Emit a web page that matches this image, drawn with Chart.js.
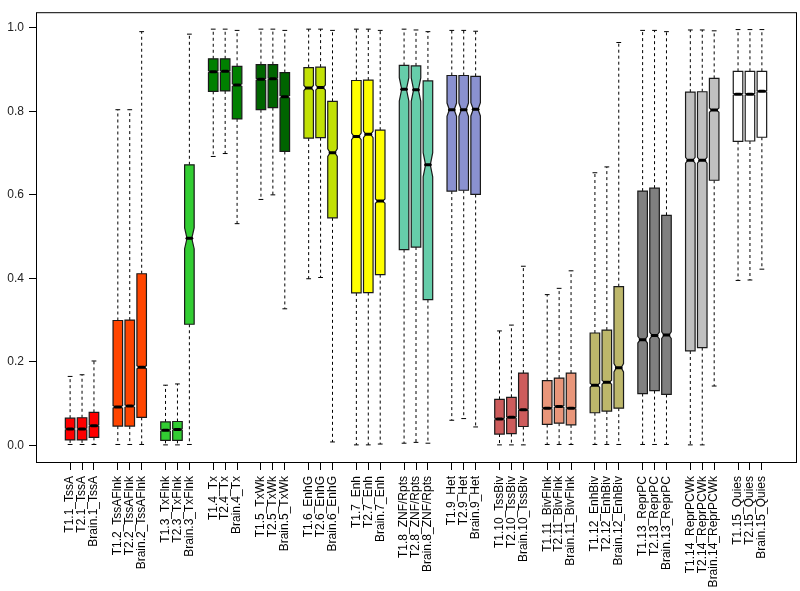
<!DOCTYPE html>
<html>
<head>
<meta charset="utf-8">
<script src="https://cdn.jsdelivr.net/npm/chart.js@4.4.1/dist/chart.umd.min.js"></script>
<style>
  html, body { margin: 0; padding: 0; background: #fff; }
  #wrap { width: 800px; height: 591px; }
</style>
</head>
<body>
<div id="wrap"><canvas id="boxChart" width="800" height="591"></canvas></div>
<script>
// chromatin states, three samples each
var states = ["TssA", "TssAFlnk", "TxFlnk", "Tx", "TxWk", "EnhG", "Enh", "ZNF/Rpts",
  "Het", "TssBiv", "BivFlnk", "EnhBiv", "ReprPC", "ReprPCWk", "Quies"];
var samples = ["T1", "T2", "Brain"];
var stateColors = ["#FF0000", "#FF4500", "#32CD32", "#008000", "#006400", "#C2E105",
  "#FFFF00", "#66CDAA", "#8A91D0", "#CD5C5C", "#E9967A", "#BDB76B", "#808080",
  "#C0C0C0", "#FFFFFF"];
var yTicks = [0, 0.2, 0.4, 0.6, 0.8, 1.0];

// box stats, ordered T1, T2, Brain per state
var whiskerLow = [
  0.002, 0.002, 0.002,  0.002, 0.002, 0.002,  0.001, 0.001, 0.002,
  0.692, 0.699, 0.531,  0.589, 0.600, 0.327,  0.399, 0.402, 0.008,
  0.001, 0.001, 0.003,  0.005, 0.007, 0.005,  0.060, 0.064, 0.044,
  0.001, 0.001, 0.001,  0.002, 0.002, 0.002,  0.002, 0.002, 0.002,
  0.002, 0.002, 0.002,  0.001, 0.001, 0.142,  0.395, 0.396, 0.422];
var q1 = [
  0.013, 0.013, 0.019,  0.046, 0.046, 0.067,  0.012, 0.012, 0.290,
  0.848, 0.849, 0.782,  0.804, 0.809, 0.704,  0.736, 0.737, 0.545,
  0.365, 0.366, 0.409,  0.469, 0.475, 0.349,  0.609, 0.611, 0.601,
  0.027, 0.028, 0.045,  0.050, 0.053, 0.049,  0.078, 0.082, 0.089,
  0.124, 0.131, 0.122,  0.226, 0.234, 0.635,  0.728, 0.729, 0.738];
var medians = [
  0.039, 0.039, 0.047,  0.092, 0.094, 0.187,  0.036, 0.038, 0.496,
  0.895, 0.896, 0.863,  0.877, 0.878, 0.835,  0.856, 0.857, 0.701,
  0.740, 0.745, 0.585,  0.853, 0.852, 0.672,  0.804, 0.804, 0.805,
  0.063, 0.067, 0.085,  0.089, 0.093, 0.089,  0.144, 0.151, 0.186,
  0.253, 0.263, 0.264,  0.683, 0.683, 0.803,  0.841, 0.841, 0.848];
var q3 = [
  0.065, 0.066, 0.079,  0.299, 0.300, 0.411,  0.056, 0.057, 0.672,
  0.926, 0.926, 0.908,  0.912, 0.912, 0.893,  0.905, 0.906, 0.824,
  0.874, 0.875, 0.755,  0.910, 0.909, 0.873,  0.886, 0.886, 0.884,
  0.110, 0.115, 0.173,  0.155, 0.161, 0.173,  0.269, 0.276, 0.380,
  0.609, 0.616, 0.551,  0.846, 0.847, 0.879,  0.896, 0.896, 0.896];
var whiskerHigh = [
  0.165, 0.169, 0.202,  0.804, 0.804, 0.991,  0.144, 0.147, 0.985,
  0.997, 0.997, 0.994,  0.997, 0.997, 0.994,  0.997, 0.997, 0.994,
  0.997, 0.997, 0.994,  0.997, 0.995, 0.991,  0.994, 0.994, 0.992,
  0.274, 0.288, 0.429,  0.361, 0.376, 0.418,  0.653, 0.667, 0.965,
  0.994, 0.994, 0.991,  0.995, 0.995, 0.993,  0.996, 0.996, 0.996];
// half height of each notch around the median
var notchHalf = [
  0.002, 0.002, 0.002,  0.003, 0.003, 0.004,  0.002, 0.002, 0.025,
  0.002, 0.002, 0.003,  0.002, 0.002, 0.003,  0.006, 0.006, 0.009,
  0.008, 0.008, 0.005,  0.028, 0.028, 0.029,  0.016, 0.016, 0.016,
  0.002, 0.002, 0.002,  0.002, 0.002, 0.002,  0.005, 0.005, 0.010,
  0.008, 0.008, 0.008,  0.007, 0.007, 0.005,  0.002, 0.002, 0.002];

var labels = [];
var positions = [];
var colors = [];
for (var g = 0; g < states.length; g++) {
  for (var s = 0; s < samples.length; s++) {
    labels.push(samples[s] + "." + (g + 1) + "_" + states[g]);
    positions.push(g * 4 + s + 1);
    colors.push(stateColors[g]);
  }
}

var points = positions.map(function (p, i) { return { x: p, y: medians[i] }; });

var boxPlugin = {
  id: "boxes",
  afterDatasetsDraw: function (chart) {
    var ctx = chart.ctx;
    var xs = chart.scales.x, ys = chart.scales.y;
    var area = chart.chartArea;
    ctx.save();
    for (var i = 0; i < positions.length; i++) {
      var x = xs.getPixelForValue(positions[i]);
      var hw = xs.getPixelForValue(positions[i] + 0.4) - x;
      var sw = hw * 0.5;
      var yLo = ys.getPixelForValue(whiskerLow[i]);
      var yQ1 = ys.getPixelForValue(q1[i]);
      var yMed = ys.getPixelForValue(medians[i]);
      var yQ3 = ys.getPixelForValue(q3[i]);
      var yHi = ys.getPixelForValue(whiskerHigh[i]);
      var yN1 = ys.getPixelForValue(medians[i] - notchHalf[i]);
      var yN2 = ys.getPixelForValue(medians[i] + notchHalf[i]);

      // whiskers
      ctx.strokeStyle = "#000";
      ctx.lineWidth = 1;
      ctx.setLineDash([3, 3]);
      ctx.beginPath();
      ctx.moveTo(x, yQ3); ctx.lineTo(x, yHi);
      ctx.moveTo(x, yQ1); ctx.lineTo(x, yLo);
      ctx.stroke();
      ctx.setLineDash([]);
      ctx.beginPath();
      ctx.moveTo(x - sw, yHi); ctx.lineTo(x + sw, yHi);
      ctx.moveTo(x - sw, yLo); ctx.lineTo(x + sw, yLo);
      ctx.stroke();

      // notched box
      ctx.beginPath();
      ctx.moveTo(x - hw, yQ1);
      ctx.lineTo(x + hw, yQ1);
      ctx.lineTo(x + hw, yN1);
      ctx.lineTo(x + hw * 0.5, yMed);
      ctx.lineTo(x + hw, yN2);
      ctx.lineTo(x + hw, yQ3);
      ctx.lineTo(x - hw, yQ3);
      ctx.lineTo(x - hw, yN2);
      ctx.lineTo(x - hw * 0.5, yMed);
      ctx.lineTo(x - hw, yN1);
      ctx.closePath();
      ctx.fillStyle = colors[i];
      ctx.fill();
      ctx.strokeStyle = "#1a1a1a";
      ctx.lineWidth = 1.2;
      ctx.stroke();

      // median
      ctx.strokeStyle = "#000";
      ctx.lineWidth = 3;
      ctx.lineCap = "round";
      ctx.beginPath();
      ctx.moveTo(x - hw * 0.5, yMed);
      ctx.lineTo(x + hw * 0.5, yMed);
      ctx.stroke();
      ctx.lineCap = "butt";
    }
    // frame
    ctx.strokeStyle = "#000";
    ctx.lineWidth = 1;
    ctx.strokeRect(area.left + 0.5, area.top + 0.5, area.right - area.left, area.bottom - area.top);
    ctx.restore();
  }
};

var canvas = document.getElementById("boxChart");
new Chart(canvas.getContext("2d"), {
  type: "scatter",
  data: {
    datasets: [{ data: points, pointRadius: 0, showLine: false }]
  },
  options: {
    responsive: false,
    animation: false,
    layout: { padding: { top: 4, right: 4, left: 0, bottom: 0 } },
    plugins: { legend: { display: false }, tooltip: { enabled: false } },
    scales: {
      x: {
        type: "linear",
        min: -1.86,
        max: 61.86,
        afterBuildTicks: function (scale) {
          scale.ticks = positions.map(function (p) { return { value: p }; });
        },
        afterFit: function (scale) { scale.height = 129; },
        ticks: {
          autoSkip: false,
          minRotation: 90,
          maxRotation: 90,
          padding: 6,
          color: "#000",
          font: { family: "Liberation Sans", size: 12 },
          callback: function (v) {
            var i = positions.indexOf(v);
            return i >= 0 ? labels[i] : "";
          }
        },
        grid: { drawOnChartArea: false, tickLength: 8, color: "#000", tickColor: "#000" },
        border: { display: false }
      },
      y: {
        type: "linear",
        min: -0.04,
        max: 1.0376,
        afterBuildTicks: function (scale) {
          scale.ticks = yTicks.map(function (v) { return { value: v }; });
        },
        afterFit: function (scale) { scale.width = 36; },
        ticks: {
          padding: 5,
          color: "#222",
          font: { family: "Liberation Sans", size: 12 },
          callback: function (v) { return v.toFixed(1); }
        },
        grid: { drawOnChartArea: false, tickLength: 7, color: "#000", tickColor: "#000" },
        border: { display: false }
      }
    }
  },
  plugins: [boxPlugin]
});
</script>
</body>
</html>
